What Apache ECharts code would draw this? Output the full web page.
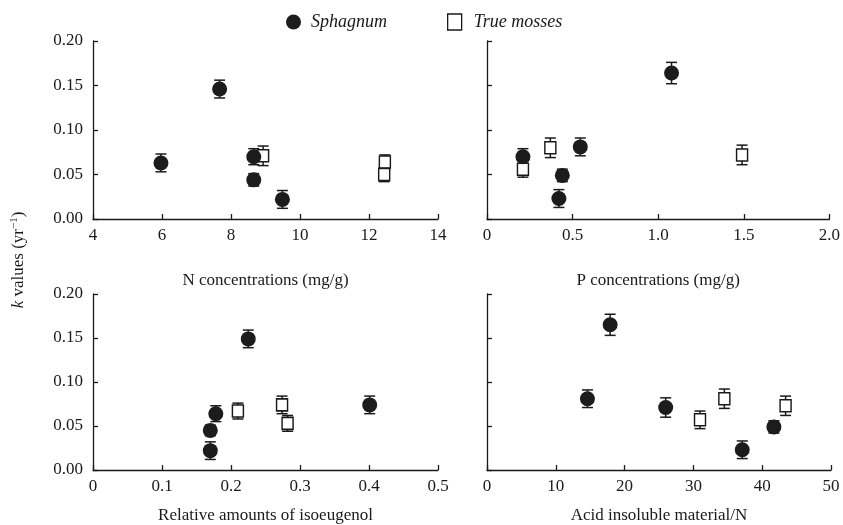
<!DOCTYPE html>
<html><head><meta charset="utf-8">
<script src="https://cdn.jsdelivr.net/npm/echarts@6/dist/echarts.min.js"></script>
<style>html,body{margin:0;padding:0;background:#fff}#c{width:843px;height:525px}</style>
</head><body><div id="c"></div>
<script>
// each point: [x, k value, error]
const nSphagnum   = [[5.97,0.063,0.010],[7.67,0.146,0.010],[8.66,0.070,0.009],[8.66,0.044,0.007],[9.49,0.022,0.010]];
const nTrue       = [[8.93,0.071,0.011],[12.46,0.064,0.008],[12.44,0.050,0.008]];
const pSphagnum   = [[0.21,0.070,0.009],[0.42,0.023,0.010],[0.44,0.049,0.007],[0.545,0.081,0.010],[1.078,0.164,0.012]];
const pTrue       = [[0.21,0.056,0.009],[0.37,0.080,0.011],[1.49,0.072,0.011]];
const isoSphagnum = [[0.225,0.149,0.010],[0.178,0.064,0.009],[0.170,0.045,0.006],[0.170,0.022,0.010],[0.401,0.074,0.010]];
const isoTrue     = [[0.210,0.067,0.009],[0.274,0.074,0.010],[0.282,0.053,0.009]];
const aisSphagnum = [[17.9,0.165,0.012],[14.6,0.081,0.010],[25.97,0.071,0.011],[41.7,0.049,0.007],[37.1,0.023,0.010]];
const aisTrue     = [[30.96,0.057,0.010],[34.5,0.081,0.011],[43.4,0.073,0.011]];

const xNames = ['N concentrations (mg/g)','P concentrations (mg/g)','Relative amounts of isoeugenol','Acid insoluble material/N'];
const xMin = [4, 0, 0, 0];
const xMax = [14, 2, 0.5, 50];
const xStep = [2, 0.5, 0.1, 10];
const yTicks = [0, 0.05, 0.10, 0.15, 0.20];
const legendNames = ['Sphagnum', 'True mosses'];

const FONT = 'Liberation Serif';
const INK = '#1a1a1a';
const panels = [[nSphagnum,nTrue],[pSphagnum,pTrue],[isoSphagnum,isoTrue],[aisSphagnum,aisTrue]];
const grids = [
  {left:93, top:41, width:345, height:178},
  {left:487, top:41, width:343, height:178},
  {left:93, top:294, width:345, height:178},
  {left:487, top:294, width:344, height:178}
];
const xFmt = [
  v => String(v),
  v => v === 0 ? '0' : v.toFixed(1),
  v => v === 0 ? '0' : v.toFixed(1),
  v => String(v)
];

function errRender(params, api){
  const x = api.value(0), y = api.value(1), e = api.value(2);
  const t = api.coord([x, y + e]), b = api.coord([x, y - e]);
  const w = 5.5;
  const st = {stroke: INK, lineWidth: 1.5};
  return {type:'group', children:[
    {type:'line', shape:{x1:t[0],y1:t[1],x2:b[0],y2:b[1]}, style:st},
    {type:'line', shape:{x1:t[0]-w,y1:t[1],x2:t[0]+w,y2:t[1]}, style:st},
    {type:'line', shape:{x1:b[0]-w,y1:b[1],x2:b[0]+w,y2:b[1]}, style:st}
  ]};
}

const xAxis = [], yAxis = [], series = [];
for (let i = 0; i < 4; i++) {
  xAxis.push({
    gridIndex:i, type:'value', min:xMin[i], max:xMax[i], interval:xStep[i],
    name:xNames[i], nameLocation:'middle', nameGap: i < 2 ? 53 : 37,
    nameTextStyle:{fontFamily:FONT, fontSize:17, color:INK},
    axisLine:{show:true, onZero:false, lineStyle:{color:INK, width:1.3}},
    axisTick:{show:true, inside:true, length:5, lineStyle:{color:INK, width:1.3}},
    axisLabel:{fontFamily:FONT, fontSize:17, color:INK, margin:8, formatter:xFmt[i]},
    splitLine:{show:false}
  });
  yAxis.push({
    gridIndex:i, type:'value', min:0, max:0.2, interval:0.05,
    axisLine:{show:true, lineStyle:{color:INK, width:1.3}},
    axisTick:{show:true, inside:true, length:5, lineStyle:{color:INK, width:1.3}},
    axisLabel:{show: i % 2 === 0, fontFamily:FONT, fontSize:17, color:INK, margin:10,
      formatter: v => v.toFixed(2)},
    splitLine:{show:false}
  });
  const [sph, tru] = panels[i];
  series.push({type:'custom', xAxisIndex:i, yAxisIndex:i, renderItem:errRender,
    encode:{x:0, y:1}, data:sph, z:1, silent:true});
  series.push({type:'custom', xAxisIndex:i, yAxisIndex:i, renderItem:errRender,
    encode:{x:0, y:1}, data:tru, z:1, silent:true});
  series.push({name:legendNames[0], type:'scatter', xAxisIndex:i, yAxisIndex:i,
    data:sph.map(d => [d[0], d[1]]), symbol:'circle', symbolSize:15, z:3,
    itemStyle:{color:'#1c1c1c', opacity:1}});
  series.push({name:legendNames[1], type:'scatter', xAxisIndex:i, yAxisIndex:i,
    data:tru.map(d => [d[0], d[1]]), symbol:'rect', symbolSize:[11,12], z:2,
    itemStyle:{color:'#fff', borderColor:INK, borderWidth:1.5, opacity:1}});
}

const chart = echarts.init(document.getElementById('c'), null, {renderer:'canvas'});
chart.setOption({
  backgroundColor:'#fff',
  animation:false,
  grid:grids,
  xAxis:xAxis,
  yAxis:yAxis,
  legend:[
    {data:[{name:legendNames[0], icon:'circle'}], left:281, top:8, itemWidth:15, itemHeight:15,
     selectedMode:false, itemGap:0,
     textStyle:{fontFamily:FONT, fontSize:18, fontStyle:'italic', color:INK, padding:[0,0,0,5]}},
    {data:[{name:legendNames[1], icon:'rect'}], left:442, top:8, itemWidth:14, itemHeight:16,
     selectedMode:false, itemGap:0,
     itemStyle:{color:'#fff', borderColor:INK, borderWidth:1.3},
     textStyle:{fontFamily:FONT, fontSize:18, fontStyle:'italic', color:INK, padding:[0,0,0,7]}}
  ],
  graphic:[{
    type:'text', x:19, y:260, rotation:Math.PI/2,
    style:{
      text:'{i|k} values (yr{s|−1})',
      fontFamily:FONT, fontSize:17, fill:INK,
      textAlign:'center', textVerticalAlign:'middle',
      rich:{
        i:{fontFamily:FONT, fontSize:17, fontStyle:'italic', fill:INK, lineHeight:20},
        s:{fontFamily:FONT, fontSize:11, fill:INK, verticalAlign:'top', lineHeight:20}
      }
    }
  }],
  series:series
});
</script>
</body></html>
